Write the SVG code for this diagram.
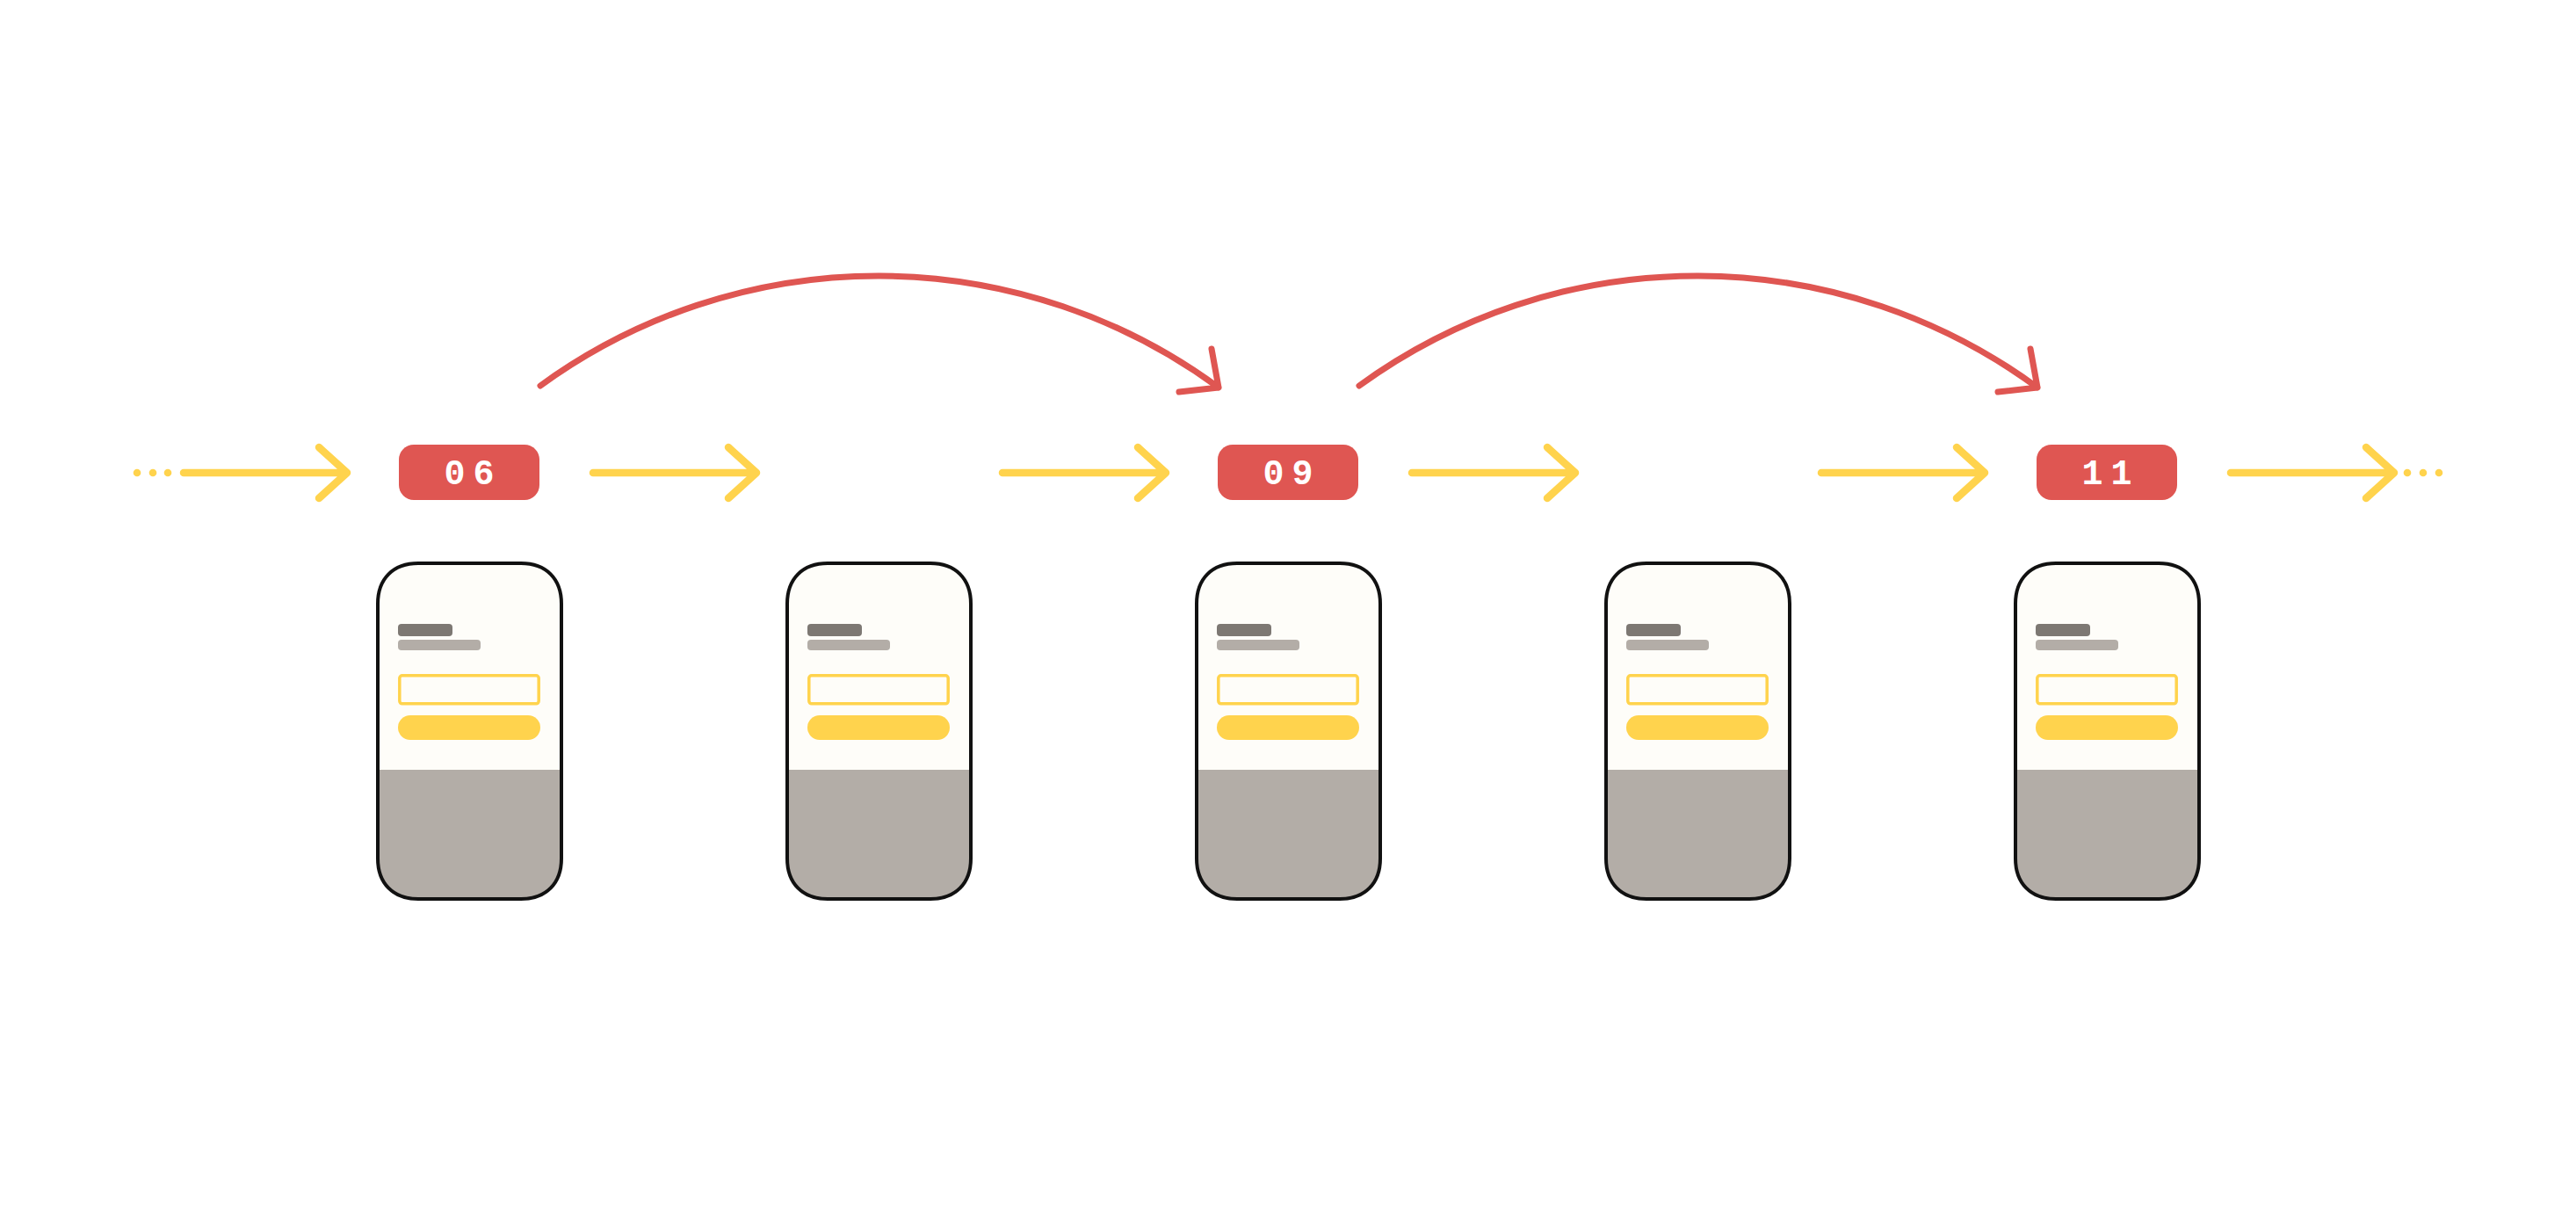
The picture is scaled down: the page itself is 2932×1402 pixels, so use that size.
<svg xmlns="http://www.w3.org/2000/svg" xmlns:xlink="http://www.w3.org/1999/xlink" width="2932" height="1402" viewBox="0 0 2932 1402">
<style>
.flow{fill:none;stroke:#ffd34d;stroke-width:8.5;stroke-linecap:round;stroke-linejoin:round}
.dot{fill:#ffd34d}
.jump{fill:none;stroke:#df5652;stroke-width:7;stroke-linecap:round;stroke-linejoin:round}
.badge{fill:#df5652}
.btxt{fill:#ffffff;font-family:"Liberation Mono",monospace;font-weight:bold;font-size:40px;letter-spacing:9px;text-anchor:middle}
</style>
<defs>
<path id="shell" d="M46 0H163C191.5 0 209 17.5 209 46V336C209 364.5 191.5 382 163 382H46C17.5 382 0 364.5 0 336V46C0 17.5 17.5 0 46 0Z"/>
<clipPath id="clip"><use xlink:href="#shell"/></clipPath>
<g id="phone">
<use xlink:href="#shell" fill="#fefdf9"/>
<rect x="0" y="235" width="209" height="150" fill="#b3ada7" clip-path="url(#clip)"/>
<rect x="23" y="69" width="62" height="14" rx="4" fill="#7d7873"/>
<rect x="23" y="87" width="94" height="12" rx="4" fill="#b3ada7"/>
<rect x="24.8" y="127.8" width="158.4" height="32" rx="3" fill="none" stroke="#ffd34d" stroke-width="3.5"/>
<rect x="23" y="173" width="162" height="28" rx="14" fill="#ffd34d"/>
<use xlink:href="#shell" fill="none" stroke="#111111" stroke-width="4"/>
</g>
</defs>
<rect width="2932" height="1402" fill="#ffffff"/>
<g id="connectors">
<circle class="dot" cx="156" cy="538" r="4.3"/>
<circle class="dot" cx="174" cy="538" r="4.3"/>
<circle class="dot" cx="191" cy="538" r="4.3"/>
<path class="flow" d="M209 538H395M363 509L395 538L363 567"/>
<path class="flow" d="M675 538H861M829 509L861 538L829 567"/>
<path class="flow" d="M1141 538H1327M1295 509L1327 538L1295 567"/>
<path class="flow" d="M1607 538H1793M1761 509L1793 538L1761 567"/>
<path class="flow" d="M2073 538H2259M2227 509L2259 538L2227 567"/>
<path class="flow" d="M2539 538H2725M2693 509L2725 538L2693 567"/>
<circle class="dot" cx="2740" cy="538" r="4.3"/>
<circle class="dot" cx="2758" cy="538" r="4.3"/>
<circle class="dot" cx="2776" cy="538" r="4.3"/>
<path class="jump" d="M615 439A654 654 0 0 1 1387 441M1379 397L1387 441L1342 446"/>
<path class="jump" d="M1547 439A654 654 0 0 1 2319 441M2311 397L2319 441L2274 446"/>
</g>
<g id="badge-06"><rect class="badge" x="454" y="506" width="160" height="63" rx="17"/><text class="btxt" x="538.5" y="551">06</text></g>
<g id="badge-09"><rect class="badge" x="1386" y="506" width="160" height="63" rx="17"/><text class="btxt" x="1470.5" y="551">09</text></g>
<g id="badge-11"><rect class="badge" x="2318" y="506" width="160" height="63" rx="17"/><text class="btxt" x="2402.5" y="551">11</text></g>
<g id="screen-1"><use xlink:href="#phone" x="430" y="641"/></g>
<g id="screen-2"><use xlink:href="#phone" x="896" y="641"/></g>
<g id="screen-3"><use xlink:href="#phone" x="1362" y="641"/></g>
<g id="screen-4"><use xlink:href="#phone" x="1828" y="641"/></g>
<g id="screen-5"><use xlink:href="#phone" x="2294" y="641"/></g>
</svg>
